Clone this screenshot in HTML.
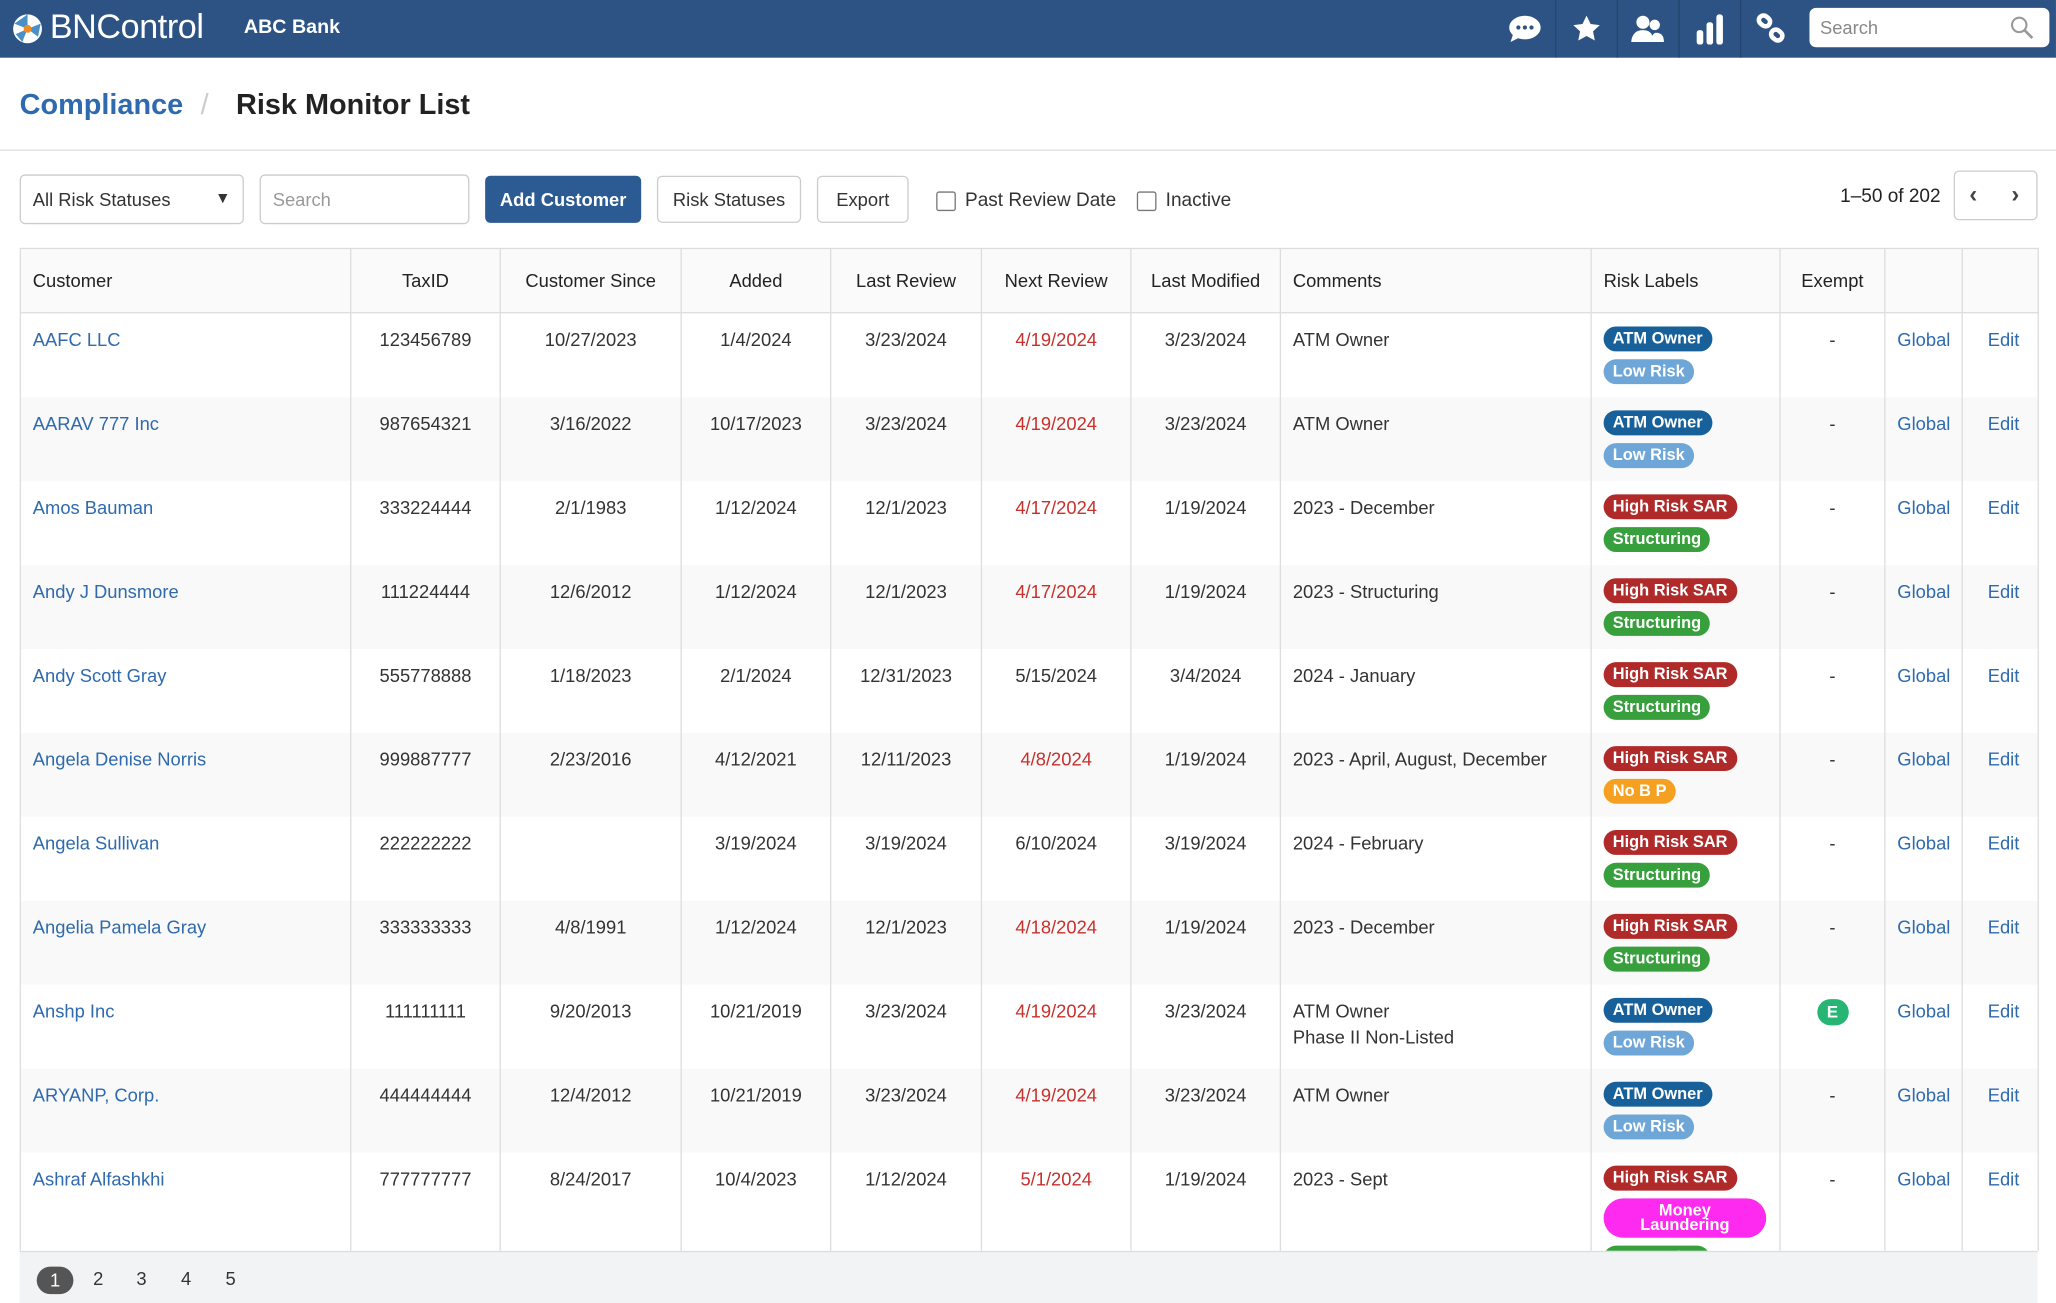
<!DOCTYPE html>
<html><head><meta charset="utf-8"><style>
*{box-sizing:border-box;margin:0;padding:0}
html,body{width:2056px;height:1303px;overflow:hidden;background:#fff}
#w{width:1568px;height:994px;transform:scale(1.3112);transform-origin:0 0;position:relative;font-family:"Liberation Sans",sans-serif;color:#333;font-size:14px}
.hdr{position:absolute;left:0;top:0;width:1568px;height:44px;background:#2c5383}
.abs{position:absolute}
.ic{position:absolute;top:0;height:44px;width:47px;border-left:1px solid #244670;display:flex;align-items:center;justify-content:center}
.btn{position:absolute;top:133px;height:38px;border:1px solid #ccc;border-radius:4px;background:#fff;display:flex;align-items:center;justify-content:center;font-size:14px;color:#333}
table{position:absolute;left:15px;top:189px;width:1539px;border-collapse:collapse;table-layout:fixed}
td,th{border-left:1px solid #ddd;border-right:1px solid #ddd;vertical-align:top;height:64px;padding:10px 9px 0;line-height:20px;font-size:14px;text-align:center;white-space:nowrap}
th{height:49px;vertical-align:middle;padding-top:0;font-weight:normal;background:#fafafa;border-top:1px solid #ddd;border-bottom:1px solid #ddd;color:#222}
tr:nth-child(odd) td{background:#f9f9f9}
.l{text-align:left}
a{color:#2e6aad;text-decoration:none}
.r{color:#c8302c}
.b{display:block;width:max-content;height:19px;line-height:19px;border-radius:10px;padding:0 7px;color:#fff;font-weight:bold;font-size:12.5px;margin-bottom:6px}
.atm{background:#17609a}.low{background:#6ea6d8}.sar{background:#b02a2a}.st{background:#37a03c}.nb{background:#f5a021}.ml{background:#ff2af0;line-height:11px;height:30px;width:124px;text-align:center;padding-top:4px;border-radius:15px}
.wrap{position:absolute;left:0;top:0;width:1568px;height:954px;overflow:hidden}
</style></head><body><div id="w">
<div class="hdr">
 <svg class="abs" style="left:9px;top:10px" width="24" height="24" viewBox="0 0 24 24"><circle cx="12" cy="12" r="11" fill="#fff"/><path d="M12 1 L12 12 L2 8Z" fill="#4a90c8"/><path d="M12 12 L22 8 L20 18Z" fill="#4a90c8"/><path d="M12 12 L8 22 L3 16Z" fill="#4a90c8"/><circle cx="12" cy="12" r="3" fill="#f08a24"/></svg>
 <div class="abs" style="left:38px;top:5px;font-size:26px;color:#fff;letter-spacing:-0.3px">BNControl</div>
 <div class="abs" style="left:186px;top:12px;font-size:15px;color:#fff;font-weight:bold">ABC Bank</div>
 <div class="ic" style="left:1139px;border-left:none"><svg width="26" height="22" viewBox="0 0 26 22"><ellipse cx="13" cy="10" rx="12" ry="9" fill="#fff"/><path d="M4 15 L2 21 L10 17Z" fill="#fff"/><circle cx="8" cy="10" r="1.6" fill="#2c5383"/><circle cx="13" cy="10" r="1.6" fill="#2c5383"/><circle cx="18" cy="10" r="1.6" fill="#2c5383"/></svg></div>
 <div class="ic" style="left:1186px"><svg width="22" height="22" viewBox="0 0 24 24"><path d="M12 1l3.4 7 7.6.9-5.6 5.2 1.5 7.6L12 18l-6.9 3.7 1.5-7.6L1 8.9 8.6 8z" fill="#fff"/></svg></div>
 <div class="ic" style="left:1233px"><svg width="26" height="22" viewBox="0 0 26 22"><circle cx="9" cy="6" r="5" fill="#fff"/><path d="M0 21 Q1 12 9 12 Q17 12 17 21Z" fill="#fff"/><circle cx="18" cy="8" r="4" fill="#fff"/><path d="M15 21 Q16 14 19 14 Q25 14 25 21Z" fill="#fff"/></svg></div>
 <div class="ic" style="left:1280px"><svg width="22" height="24" viewBox="0 0 22 24"><rect x="1" y="13" width="5" height="11" rx="2" fill="#fff"/><rect x="8.5" y="7" width="5" height="17" rx="2" fill="#fff"/><rect x="16" y="1" width="5" height="23" rx="2" fill="#fff"/></svg></div>
 <div class="ic" style="left:1327px"><svg width="24" height="24" viewBox="0 0 24 24"><g fill="none" stroke="#fff" stroke-width="3.5"><rect x="2" y="2" width="9" height="7" rx="3.5" transform="rotate(40 6 6)"/><rect x="12" y="13" width="9" height="7" rx="3.5" transform="rotate(40 16 16)"/></g></svg></div>
 <div class="abs" style="left:1380px;top:6px;width:183px;height:30px;background:#fff;border-radius:5px"><span class="abs" style="left:8px;top:7px;color:#888;font-size:14px">Search</span><svg class="abs" style="left:153px;top:6px" width="18" height="18" viewBox="0 0 18 18"><circle cx="7" cy="7" r="5.5" fill="none" stroke="#999" stroke-width="1.6"/><path d="M11 11l6 6" stroke="#999" stroke-width="2"/></svg></div>
</div>
<div class="abs" style="left:15px;top:67px;font-size:22px;font-weight:bold;color:#2e6aad">Compliance</div>
<div class="abs" style="left:153px;top:67px;font-size:22px;color:#ccc">/</div>
<div class="abs" style="left:180px;top:67px;font-size:22px;font-weight:bold;color:#222">Risk Monitor List</div>
<div class="abs" style="left:0;top:114px;width:1568px;height:1px;background:#ddd"></div>
<div class="btn" style="left:15px;width:171px;justify-content:flex-start;padding-left:9px">All Risk Statuses<span class="abs" style="left:148px;top:10px;font-size:12px">▼</span></div>
<div class="btn" style="left:198px;width:160px;justify-content:flex-start;padding-left:9px;color:#999">Search</div>
<div class="btn" style="left:370px;width:119px;height:36px;top:134px;background:#2c5a92;border-color:#2c5a92;color:#fff;font-weight:bold">Add Customer</div>
<div class="btn" style="left:501px;width:110px;height:36px;top:134px">Risk Statuses</div>
<div class="btn" style="left:623px;width:70px;height:36px;top:134px">Export</div>
<div class="abs" style="left:714px;top:146px;width:15px;height:15px;border:1px solid #777;border-radius:2px"></div>
<div class="abs" style="left:736px;top:145px;font-size:14.5px">Past Review Date</div>
<div class="abs" style="left:867px;top:146px;width:15px;height:15px;border:1px solid #777;border-radius:2px"></div>
<div class="abs" style="left:889px;top:145px;font-size:14.5px">Inactive</div>
<div class="abs" style="left:1380px;top:142px;width:100px;text-align:right;font-size:14.5px;color:#222">1–50 of 202</div>
<div class="abs" style="left:1490px;top:130px;width:64px;height:38px;border:1px solid #ccc;border-radius:4px"><span class="abs" style="left:11px;top:7px;font-size:18px;font-weight:bold;color:#444">‹</span><span class="abs" style="left:43px;top:7px;font-size:18px;font-weight:bold;color:#444">›</span></div>
<div class="wrap">
<table>
<colgroup><col style="width:252px"><col style="width:114px"><col style="width:138px"><col style="width:114px"><col style="width:115px"><col style="width:114px"><col style="width:114px"><col style="width:237px"><col style="width:144px"><col style="width:80px"><col style="width:59px"><col style="width:58px"></colgroup>
<tr><th class="l">Customer</th><th>TaxID</th><th>Customer Since</th><th>Added</th><th>Last Review</th><th>Next Review</th><th>Last Modified</th><th class="l">Comments</th><th class="l">Risk Labels</th><th>Exempt</th><th></th><th></th></tr>
<tr><td class="l"><a>AAFC LLC</a></td><td>123456789</td><td>10/27/2023</td><td>1/4/2024</td><td>3/23/2024</td><td class="r">4/19/2024</td><td>3/23/2024</td><td class="l">ATM Owner</td><td class="l"><span class="b atm">ATM Owner</span><span class="b low">Low Risk</span></td><td>-</td><td><a>Global</a></td><td style="padding-left:14px"><a>Edit</a></td></tr>
<tr><td class="l"><a>AARAV 777 Inc</a></td><td>987654321</td><td>3/16/2022</td><td>10/17/2023</td><td>3/23/2024</td><td class="r">4/19/2024</td><td>3/23/2024</td><td class="l">ATM Owner</td><td class="l"><span class="b atm">ATM Owner</span><span class="b low">Low Risk</span></td><td>-</td><td><a>Global</a></td><td style="padding-left:14px"><a>Edit</a></td></tr>
<tr><td class="l"><a>Amos Bauman</a></td><td>333224444</td><td>2/1/1983</td><td>1/12/2024</td><td>12/1/2023</td><td class="r">4/17/2024</td><td>1/19/2024</td><td class="l">2023 - December</td><td class="l"><span class="b sar">High Risk SAR</span><span class="b st">Structuring</span></td><td>-</td><td><a>Global</a></td><td style="padding-left:14px"><a>Edit</a></td></tr>
<tr><td class="l"><a>Andy J Dunsmore</a></td><td>111224444</td><td>12/6/2012</td><td>1/12/2024</td><td>12/1/2023</td><td class="r">4/17/2024</td><td>1/19/2024</td><td class="l">2023 - Structuring</td><td class="l"><span class="b sar">High Risk SAR</span><span class="b st">Structuring</span></td><td>-</td><td><a>Global</a></td><td style="padding-left:14px"><a>Edit</a></td></tr>
<tr><td class="l"><a>Andy Scott Gray</a></td><td>555778888</td><td>1/18/2023</td><td>2/1/2024</td><td>12/31/2023</td><td>5/15/2024</td><td>3/4/2024</td><td class="l">2024 - January</td><td class="l"><span class="b sar">High Risk SAR</span><span class="b st">Structuring</span></td><td>-</td><td><a>Global</a></td><td style="padding-left:14px"><a>Edit</a></td></tr>
<tr><td class="l"><a>Angela Denise Norris</a></td><td>999887777</td><td>2/23/2016</td><td>4/12/2021</td><td>12/11/2023</td><td class="r">4/8/2024</td><td>1/19/2024</td><td class="l">2023 - April, August, December</td><td class="l"><span class="b sar">High Risk SAR</span><span class="b nb">No B P</span></td><td>-</td><td><a>Global</a></td><td style="padding-left:14px"><a>Edit</a></td></tr>
<tr><td class="l"><a>Angela Sullivan</a></td><td>222222222</td><td></td><td>3/19/2024</td><td>3/19/2024</td><td>6/10/2024</td><td>3/19/2024</td><td class="l">2024 - February</td><td class="l"><span class="b sar">High Risk SAR</span><span class="b st">Structuring</span></td><td>-</td><td><a>Global</a></td><td style="padding-left:14px"><a>Edit</a></td></tr>
<tr><td class="l"><a>Angelia Pamela Gray</a></td><td>333333333</td><td>4/8/1991</td><td>1/12/2024</td><td>12/1/2023</td><td class="r">4/18/2024</td><td>1/19/2024</td><td class="l">2023 - December</td><td class="l"><span class="b sar">High Risk SAR</span><span class="b st">Structuring</span></td><td>-</td><td><a>Global</a></td><td style="padding-left:14px"><a>Edit</a></td></tr>
<tr><td class="l"><a>Anshp Inc</a></td><td>111111111</td><td>9/20/2013</td><td>10/21/2019</td><td>3/23/2024</td><td class="r">4/19/2024</td><td>3/23/2024</td><td class="l">ATM Owner<br>Phase II Non-Listed</td><td class="l"><span class="b atm">ATM Owner</span><span class="b low">Low Risk</span></td><td><span style="display:inline-block;width:24px;height:20px;border-radius:10px;background:#27b574;color:#fff;font-size:13px;font-weight:bold;line-height:20px">E</span></td><td><a>Global</a></td><td style="padding-left:14px"><a>Edit</a></td></tr>
<tr><td class="l"><a>ARYANP, Corp.</a></td><td>444444444</td><td>12/4/2012</td><td>10/21/2019</td><td>3/23/2024</td><td class="r">4/19/2024</td><td>3/23/2024</td><td class="l">ATM Owner</td><td class="l"><span class="b atm">ATM Owner</span><span class="b low">Low Risk</span></td><td>-</td><td><a>Global</a></td><td style="padding-left:14px"><a>Edit</a></td></tr>
<tr><td class="l" style="height:80px"><a>Ashraf Alfashkhi</a></td><td>777777777</td><td>8/24/2017</td><td>10/4/2023</td><td>1/12/2024</td><td class="r">5/1/2024</td><td>1/19/2024</td><td class="l">2023 - Sept</td><td class="l"><span class="b sar">High Risk SAR</span><span class="b ml">Money<br>Laundering</span><span class="b st">Structuring</span></td><td>-</td><td><a>Global</a></td><td style="padding-left:14px"><a>Edit</a></td></tr>
</table>
</div>
<div class="abs" style="left:15px;top:954px;width:1539px;height:40px;background:#f2f3f5;border-top:1px solid #ddd"></div>
<div class="abs" style="left:28px;top:966px;width:28px;height:21px;border-radius:11px;background:#555;color:#fff;text-align:center;line-height:21px;font-size:14px">1</div>
<div class="abs" style="left:71px;top:967px;font-size:14px">2</div>
<div class="abs" style="left:104px;top:967px;font-size:14px">3</div>
<div class="abs" style="left:138px;top:967px;font-size:14px">4</div>
<div class="abs" style="left:172px;top:967px;font-size:14px">5</div>
</div></body></html>
